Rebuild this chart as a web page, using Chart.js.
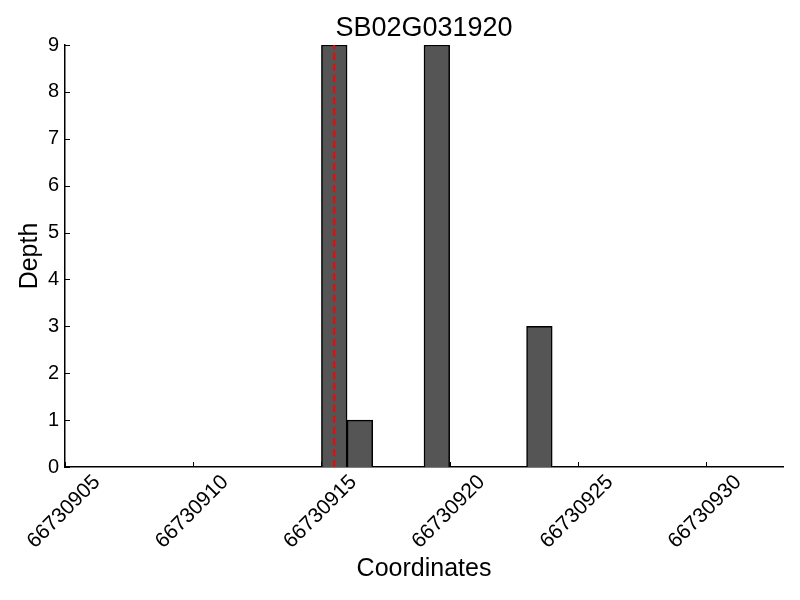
<!DOCTYPE html>
<html>
<head>
<meta charset="utf-8">
<title>SB02G031920 depth</title>
<script src="https://cdn.jsdelivr.net/npm/chart.js"></script>
<style>
  body { margin: 0; background: #fff; }
  #chart { display: block; }
</style>
</head>
<body>
<canvas id="chart" width="800" height="600"></canvas>
<script>
/* depth per coordinate around the SB02G031920 site */

const geneName = 'SB02G031920';
const binStarts = [66730915, 66730916, 66730919, 66730923];
const depths = [9, 1, 9, 3];
const markerPos = 66730915.5;
const xMin = 66730905, xMax = 66730933, xStep = 5;
const yMin = 0, yMax = 9;

const font = 'Liberation Sans, Arial, Helvetica, sans-serif';

// ticks drawn inward, like the original plot
const inwardTicks = {
  id: 'inwardTicks',
  afterDatasetsDraw(chart) {
    const { ctx, chartArea, scales } = chart;
    ctx.save();
    ctx.strokeStyle = '#000';
    ctx.lineWidth = 1;
    ctx.beginPath();
    scales.x.ticks.forEach((t, i) => {
      const px = Math.round(scales.x.getPixelForTick(i)) + 0.5;
      ctx.moveTo(px, chartArea.bottom);
      ctx.lineTo(px, chartArea.bottom - 5);
    });
    scales.y.ticks.forEach((t, i) => {
      const py = Math.round(scales.y.getPixelForTick(i)) + 0.5;
      ctx.moveTo(chartArea.left, py);
      ctx.lineTo(chartArea.left + 5, py);
    });
    ctx.stroke();
    ctx.restore();
  }
};

new Chart(document.getElementById('chart'), {
  type: 'bar',
  data: {
    datasets: [
      {
        type: 'line',
        data: [{ x: markerPos, y: yMin }, { x: markerPos, y: yMax }],
        borderColor: '#ff0000',
        borderWidth: 2,
        borderDash: [7, 4],
        pointRadius: 0,
        order: 0
      },
      {
        data: binStarts.map((s, i) => ({ x: s + 0.5, y: depths[i] })),
        backgroundColor: '#555555',
        borderColor: '#000000',
        borderWidth: 1.5,
        barPercentage: 1,
        categoryPercentage: 1,
        order: 1
      }
    ]
  },
  options: {
    responsive: false,
    animation: false,
    layout: { padding: { left: 0, right: 17, top: 0, bottom: 0 }, autoPadding: false },
    plugins: {
      legend: { display: false },
      tooltip: { enabled: false },
      title: {
        display: true,
        text: geneName,
        fullSize: false,
        color: '#000',
        font: { family: font, size: 27, weight: 'normal', lineHeight: 1.2 },
        padding: { top: 12, bottom: 0.6 }
      }
    },
    scales: {
      x: {
        type: 'linear',
        min: xMin,
        max: xMax,
        offset: false,
        grid: { display: false, drawTicks: false },
        border: { display: true, color: '#000', width: 1.5 },
        ticks: {
          stepSize: xStep,
          includeBounds: false,
          autoSkip: false,
          minRotation: 45,
          maxRotation: 45,
          padding: 3,
          labelOffset: 32,
          color: '#000',
          font: { family: font, size: 21 },
          callback: v => String(v)
        },
        title: {
          display: true,
          text: 'Coordinates',
          color: '#000',
          font: { family: font, size: 25 },
          padding: { top: 0, bottom: 16 }
        },
        afterFit: s => {
          s.height = 133;
          s.paddingLeft = 0;
          s.paddingRight = 0;
        }
      },
      y: {
        min: yMin,
        max: yMax,
        grid: { display: false, drawTicks: false },
        border: { display: true, color: '#000', width: 1.5 },
        ticks: {
          stepSize: 1,
          padding: 6,
          color: '#000',
          font: { family: font, size: 20 }
        },
        title: {
          display: true,
          text: 'Depth',
          color: '#000',
          font: { family: font, size: 25 },
          padding: { top: 15, bottom: 0 }
        },
        afterFit: s => { s.width = 65; }
      }
    }
  },
  plugins: [inwardTicks]
});
</script>
</body>
</html>
